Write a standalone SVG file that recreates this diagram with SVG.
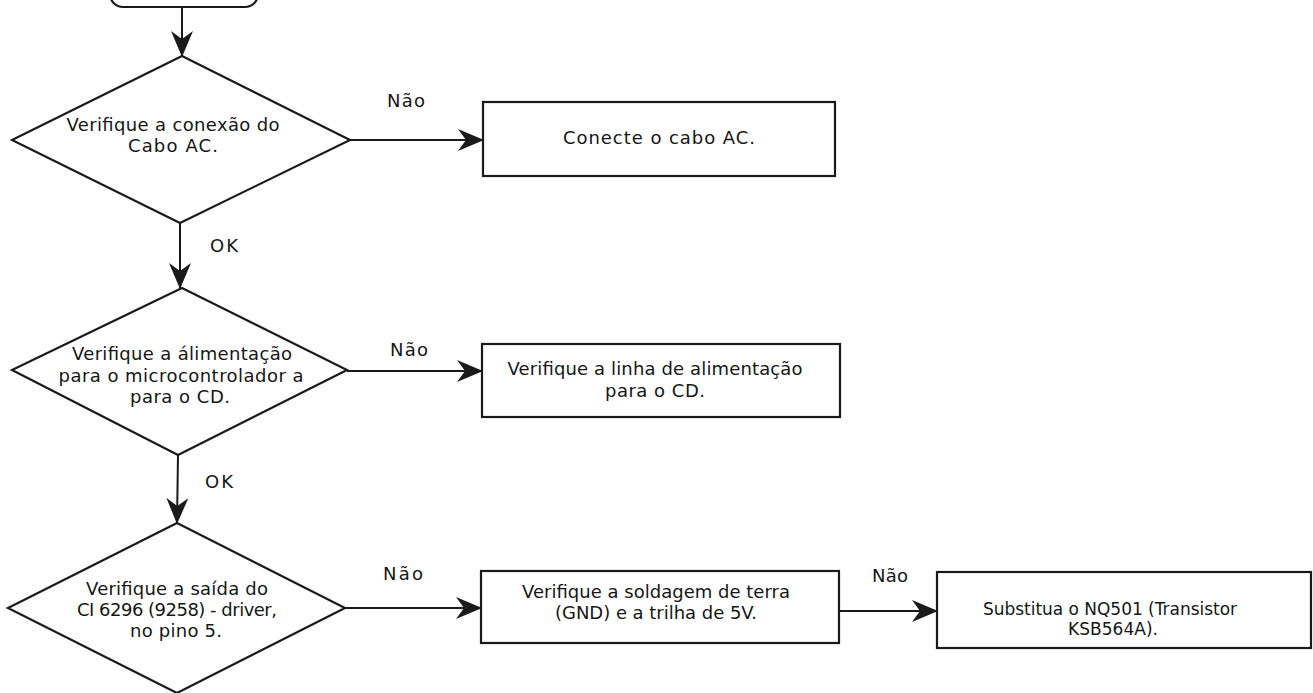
<svg xmlns="http://www.w3.org/2000/svg" width="1313" height="693" viewBox="0 0 1313 693">
  <style>
    .shape { fill: #ffffff; stroke: #1a1a1a; stroke-width: 2.2; }
    .edge { fill: none; stroke: #1a1a1a; stroke-width: 2; }
    text { font-family: "DejaVu Sans", "Liberation Sans", sans-serif; font-size: 18px; fill: #161616; }
    .c { text-anchor: middle; }
    .small { font-size: 17px; }
  </style>
  <defs>
    <!-- swept-back arrowhead with a notched base -->
    <marker id="arrow" markerUnits="userSpaceOnUse" viewBox="0 0 26 24" markerWidth="26" markerHeight="24" refX="25" refY="12" orient="auto">
      <path d="M0,1 L26,12 L0,23 L8,12 Z" fill="#1a1a1a"/>
    </marker>
  </defs>

  <rect width="1313" height="693" fill="#ffffff"/>

  <!-- start terminator (runs off the top edge) -->
  <g id="start">
    <rect class="shape" x="110" y="-40" width="148" height="47" rx="13" ry="13"/>
  </g>

  <!-- decision: AC cable -->
  <g id="check-ac-cable">
    <polygon class="shape" points="182,56 350,140 180,223 12,140"/>
    <text class="c" x="173" y="131" textLength="213" lengthAdjust="spacing">Verifique a conexão do</text>
    <text class="c" x="173" y="152" textLength="90" lengthAdjust="spacing">Cabo AC.</text>
  </g>

  <g id="connect-ac-cable">
    <rect class="shape" x="483" y="102" width="352" height="74"/>
    <text class="c" x="659" y="144" textLength="192" lengthAdjust="spacing">Conecte o cabo AC.</text>
  </g>

  <!-- decision: microcontroller supply -->
  <g id="check-mcu-supply">
    <polygon class="shape" points="182,288 347,370 178,455 12,370"/>
    <text class="c" x="182" y="360" textLength="220" lengthAdjust="spacing">Verifique a álimentação</text>
    <text class="c" x="181" y="382" textLength="245" lengthAdjust="spacing">para o microcontrolador a</text>
    <text class="c" x="180" y="403" textLength="100" lengthAdjust="spacing">para o CD.</text>
  </g>

  <g id="check-supply-line">
    <rect class="shape" x="482" y="344" width="358" height="73"/>
    <text class="c" x="655" y="375" textLength="295" lengthAdjust="spacing">Verifique a linha de alimentação</text>
    <text class="c" x="655" y="397" textLength="100" lengthAdjust="spacing">para o CD.</text>
  </g>

  <!-- decision: driver output -->
  <g id="check-driver-output">
    <polygon class="shape" points="177,523 345,608 177,693 8,608"/>
    <text class="c" x="177" y="595" textLength="182" lengthAdjust="spacing">Verifique a saída do</text>
    <text class="c" x="177" y="616" textLength="200" lengthAdjust="spacing">CI 6296 (9258) - driver,</text>
    <text class="c" x="176" y="637" textLength="92" lengthAdjust="spacing">no pino 5.</text>
  </g>

  <g id="check-gnd-5v">
    <rect class="shape" x="481" y="571" width="358" height="72"/>
    <text class="c" x="656" y="598" textLength="268" lengthAdjust="spacing">Verifique a soldagem de terra</text>
    <text class="c" x="656" y="619" textLength="202" lengthAdjust="spacing">(GND) e a trilha de 5V.</text>
  </g>

  <g id="replace-nq501">
    <rect class="shape" x="937" y="572" width="374" height="76"/>
    <text class="c small" x="1110" y="615" textLength="254" lengthAdjust="spacing">Substitua o NQ501 (Transistor</text>
    <text class="c small" x="1113" y="635" textLength="90" lengthAdjust="spacing">KSB564A).</text>
  </g>

  <!-- connectors and their labels -->
  <g id="connectors">
    <line class="edge" x1="182" y1="7" x2="182" y2="56" marker-end="url(#arrow)"/>
    <line class="edge" x1="180" y1="223" x2="180" y2="288" marker-end="url(#arrow)"/>
    <line class="edge" x1="178" y1="455" x2="177" y2="523" marker-end="url(#arrow)"/>
    <line class="edge" x1="350" y1="140" x2="483" y2="140" marker-end="url(#arrow)"/>
    <line class="edge" x1="347" y1="371" x2="482" y2="371" marker-end="url(#arrow)"/>
    <line class="edge" x1="345" y1="608" x2="481" y2="608" marker-end="url(#arrow)"/>
    <line class="edge" x1="839" y1="611" x2="937" y2="611" marker-end="url(#arrow)"/>

    <text x="387" y="107" textLength="38" lengthAdjust="spacing">Não</text>
    <text x="210" y="252" textLength="28" lengthAdjust="spacing">OK</text>
    <text x="390" y="356" textLength="38" lengthAdjust="spacing">Não</text>
    <text x="205" y="488" textLength="28" lengthAdjust="spacing">OK</text>
    <text x="383" y="580" textLength="40" lengthAdjust="spacing">Não</text>
    <text x="872" y="582" textLength="36" lengthAdjust="spacing">Não</text>
  </g>
</svg>
